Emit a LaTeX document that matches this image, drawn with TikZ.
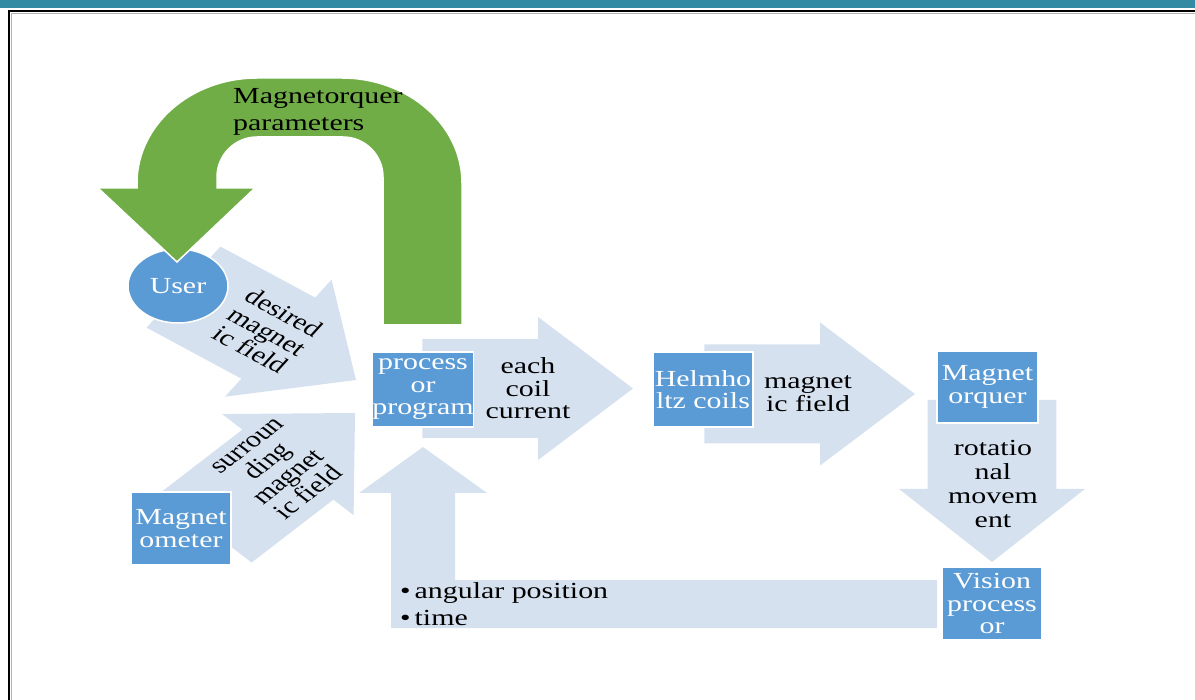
\documentclass[tikz,border=0pt]{standalone}
\usepackage{fontspec}
\setmainfont{Liberation Serif}[FakeStretch=1.3]
\newfontfamily\plainserif{Liberation Serif}
\usetikzlibrary{shapes.geometric}
\definecolor{boxblue}{RGB}{91,155,213}
\definecolor{lightarrow}{RGB}{214,225,240}
\definecolor{grn}{RGB}{112,173,71}
\definecolor{bandteal}{RGB}{50,138,163}
\begin{document}
\begin{tikzpicture}[x=1pt,y=-1pt,
  box/.style={fill=boxblue, draw=white, line width=1.5pt, text=white, align=center, inner sep=0pt, font=\fontsize{23}{22.5}\selectfont},
  lbl/.style={text=black, align=center, inner sep=0pt, font=\fontsize{23}{22.5}\selectfont},
  arrowfill/.style={fill=lightarrow}
]
\path[use as bounding box] (0,0) rectangle (1195,700);
% page decoration
\fill[bandteal] (0,0) rectangle (1195,8);
\draw[line width=2pt] (1195,11) -- (9,11) -- (9,700);
\draw[gray!60, line width=0.8pt] (1195,13.8) -- (11.8,13.8) -- (11.8,700);

% light block arrows (tip at local origin, pointing along local +x)
\begin{scope}[shift={(356,380)},xscale=1.3,rotate=-35]
\fill[arrowfill] (0,0) -- (-73,71.5) -- (-73,49.5) -- (-162,49.5) -- (-162,-49.5) -- (-73,-49.5) -- (-73,-71.5) -- cycle;
\end{scope}
\begin{scope}[shift={(355,413)},xscale=1.3,rotate=45]
\fill[arrowfill] (0,0) -- (-73,71.5) -- (-73,49.5) -- (-162,49.5) -- (-162,-49.5) -- (-73,-49.5) -- (-73,-71.5) -- cycle;
\end{scope}
\begin{scope}[shift={(633,388.5)},xscale=1.3]
\fill[arrowfill] (0,0) -- (-73,71.5) -- (-73,49.5) -- (-162,49.5) -- (-162,-49.5) -- (-73,-49.5) -- (-73,-71.5) -- cycle;
\end{scope}
\begin{scope}[shift={(915,394)},xscale=1.3]
\fill[arrowfill] (0,0) -- (-73,71.5) -- (-73,49.5) -- (-162,49.5) -- (-162,-49.5) -- (-73,-49.5) -- (-73,-71.5) -- cycle;
\end{scope}
\begin{scope}[shift={(992,562)},xscale=1.3,rotate=-90]
\fill[arrowfill] (0,0) -- (-73,71.5) -- (-73,49.5) -- (-162,49.5) -- (-162,-49.5) -- (-73,-49.5) -- (-73,-71.5) -- cycle;
\end{scope}
\fill[arrowfill] (391,628) -- (391,493) -- (359,493) -- (423,447) -- (487,493) -- (455,493) -- (455,580) -- (937,580) -- (937,628) -- cycle;

% boxes
\node[box, minimum width=100pt, minimum height=75pt] (proc) at (423,389.5) {process\\or\\program};
\node[box, minimum width=100pt, minimum height=75pt] (helm) at (703,389.5) {Helmho\\ltz coils};
\node[box, minimum width=101pt, minimum height=72pt] (mtq) at (987.5,387) {Magnet\\orquer};
\node[box, minimum width=100pt, minimum height=73pt] (mgm) at (181,528.5) {Magnet\\ometer};
\node[box, minimum width=100pt, minimum height=73pt] (vis) at (992,603.5) {Vision\\process\\or};
\node[box, ellipse, minimum width=100pt, minimum height=74pt] (user) at (178,286) {User};

% green U-turn arrow
\filldraw[fill=grn, draw=white, line width=1.5pt] (462,325) -- (462,183) .. controls (462,125) and (408,78) .. (342,78) -- (257,78) .. controls (191,78) and (137,125) .. (137,183) -- (137,188) -- (98,188) -- (177,262) -- (255,188) -- (217,188) -- (217,177) .. controls (217,155) and (235,137) .. (257,137) -- (343,137) .. controls (365,137) and (383,155) .. (383,177) -- (383,325) -- cycle;

% labels
\node[lbl, align=left, anchor=west, font=\fontsize{23}{27}\selectfont] (mtqp) at (233,111.5) {Magnetorquer\\parameters};
\node[lbl] (ecc) at (528,388.5) {each\\coil\\current};
\node[lbl] (mif) at (808,393.5) {magnet\\ic field};
\node[lbl, font=\fontsize{23}{24}\selectfont] (rot) at (993,484) {rotatio\\nal\\movem\\ent};
\node[lbl, align=left, anchor=west, font=\fontsize{23}{27}\selectfont] (bul) at (400,604.5) {•\hspace{4pt}angular position\\•\hspace{4pt}time};
\begin{scope}[shift={(267,331)}, xscale=1.3, rotate=-35]
\node[transform shape, lbl, font=\plainserif\fontsize{23}{22.5}\selectfont] (dmf) at (0,0) {desired\\magnet\\ic field};
\end{scope}
\begin{scope}[shift={(279,470)}, xscale=1.3, rotate=45]
\node[transform shape, lbl, font=\plainserif\fontsize{23}{22.5}\selectfont] (smf) at (0,0) {surroun\\ding\\magnet\\ic field};
\end{scope}
\end{tikzpicture}
\end{document}
